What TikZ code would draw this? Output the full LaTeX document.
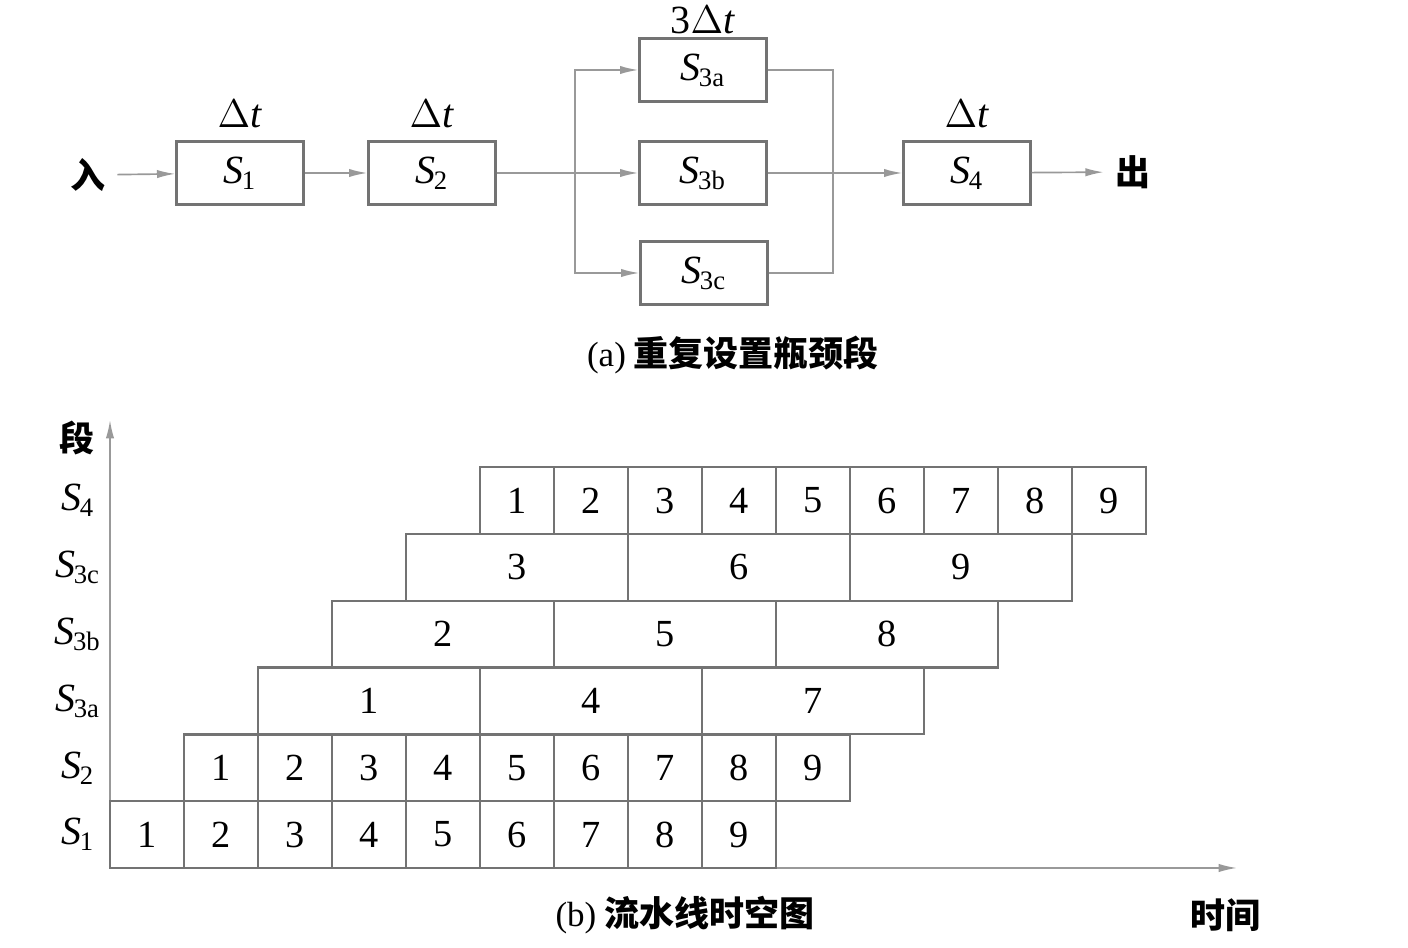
\documentclass[tikz,border=0pt]{standalone}
\usepackage{fontspec}
\setmainfont{Liberation Serif}
\newfontfamily\cjk{Noto Sans CJK SC}
\usetikzlibrary{arrows.meta}

\definecolor{boxgray}{gray}{0.45}
\definecolor{linegray}{gray}{0.6}
\newcommand\stg[1]{\textit{S}\kern-0.4pt\textsubscript{#1}}
\newcommand\dt{$\Delta$\textit{t}}

\begin{document}
\begin{tikzpicture}[x=0.3pt,y=0.3pt,
  stage/.style={draw=boxgray, line width=0.8pt, minimum width=38pt, minimum height=19pt, font=\fontsize{12}{14}\selectfont},
  flow/.style={draw=linegray, line width=0.5pt, -{Latex[length=5.5pt,width=2.5pt]}},
  wire/.style={draw=linegray, line width=0.5pt},
  cell/.style={draw=boxgray, line width=0.7pt, minimum width=22.2pt, minimum height=20pt, inner sep=0pt, font=\fontsize{11.5}{13}\selectfont},
  longcell/.style={cell, minimum width=66.6pt},
  delay/.style={font=\fontsize{12}{14}\selectfont},
  cjktext/.style={font=\cjk\bfseries\fontsize{10.5}{12}\selectfont}]
\useasboundingbox (0,0) rectangle (1408,948);

% (a) stages
\node[cjktext] (in) at (88,773) {入};
\node[stage, label={[delay]above:\dt}] (s1) at (240,775) {\stg{1}};
\node[stage, label={[delay]above:\dt}] (s2) at (432,775) {\stg{2}};
\node[stage, label={[delay,inner sep=0.8pt]above:3\dt}] (s3a) at (703,878) {\stg{3a}};
\node[stage] (s3b) at (703,775) {\stg{3b}};
\node[stage] (s3c) at (704,675) {\stg{3c}};
\node[stage, label={[delay]above:\dt}] (s4) at (967,775) {\stg{4}};
\node[cjktext] (out) at (1133,776) {出};
\coordinate (split) at (575,775);
\coordinate (merge) at (833,775);

\draw[flow] (in) -- (s1);
\draw[flow] (s1) -- (s2);
\draw[wire] (s2) -- (split);
\draw[flow] (split) -- (s3b);
\draw[flow] (split) |- (s3a);
\draw[flow] (split) |- (s3c);
\draw[wire] (s3a) -| (merge);
\draw[wire] (s3c) -| (merge);
\draw[flow] (s3b) -- (s4);
\draw[flow] (s4) -- (out);
\node[cjktext] (capa) at (733,593) {{\rmfamily\mdseries (a)} 重复设置瓶颈段};

% (b) space-time chart
\coordinate (o) at (110,80);
\coordinate (ytop) at (110,528);
\coordinate (xend) at (1237,80);
\draw[flow] (o) -- (ytop);
\draw[flow] (o) -- (xend);
\node[cjktext] (seg) at (77,510) {段};
\node[cjktext] (time) at (1225,33) {时间};
\node[cjktext] (capb) at (685,33) {{\rmfamily\mdseries (b)} 流水线时空图};

\foreach \lab [count=\r from 0] in {1,2,3a,3b,3c,4}
  \node[delay] (l\r) at (78,{80+(\r+0.5)*66.8}) {\stg{\lab}};

\foreach \i in {1,...,9} {
  \node[cell] (p\i) at ({110+(\i-0.5)*74},{80+0.5*66.8}) {\i};
  \node[cell] (q\i) at ({110+(\i+0.5)*74},{80+1.5*66.8}) {\i};
  \node[cell] (w\i) at ({110+(\i+4.5)*74},{80+5.5*66.8}) {\i};
  \pgfmathtruncatemacro\r{2+mod(\i-1,3)}
  \node[longcell] (m\i) at ({110+(\i+2.5)*74},{80+(\r+0.5)*66.8}) {\i};
}
\end{tikzpicture}
\end{document}
